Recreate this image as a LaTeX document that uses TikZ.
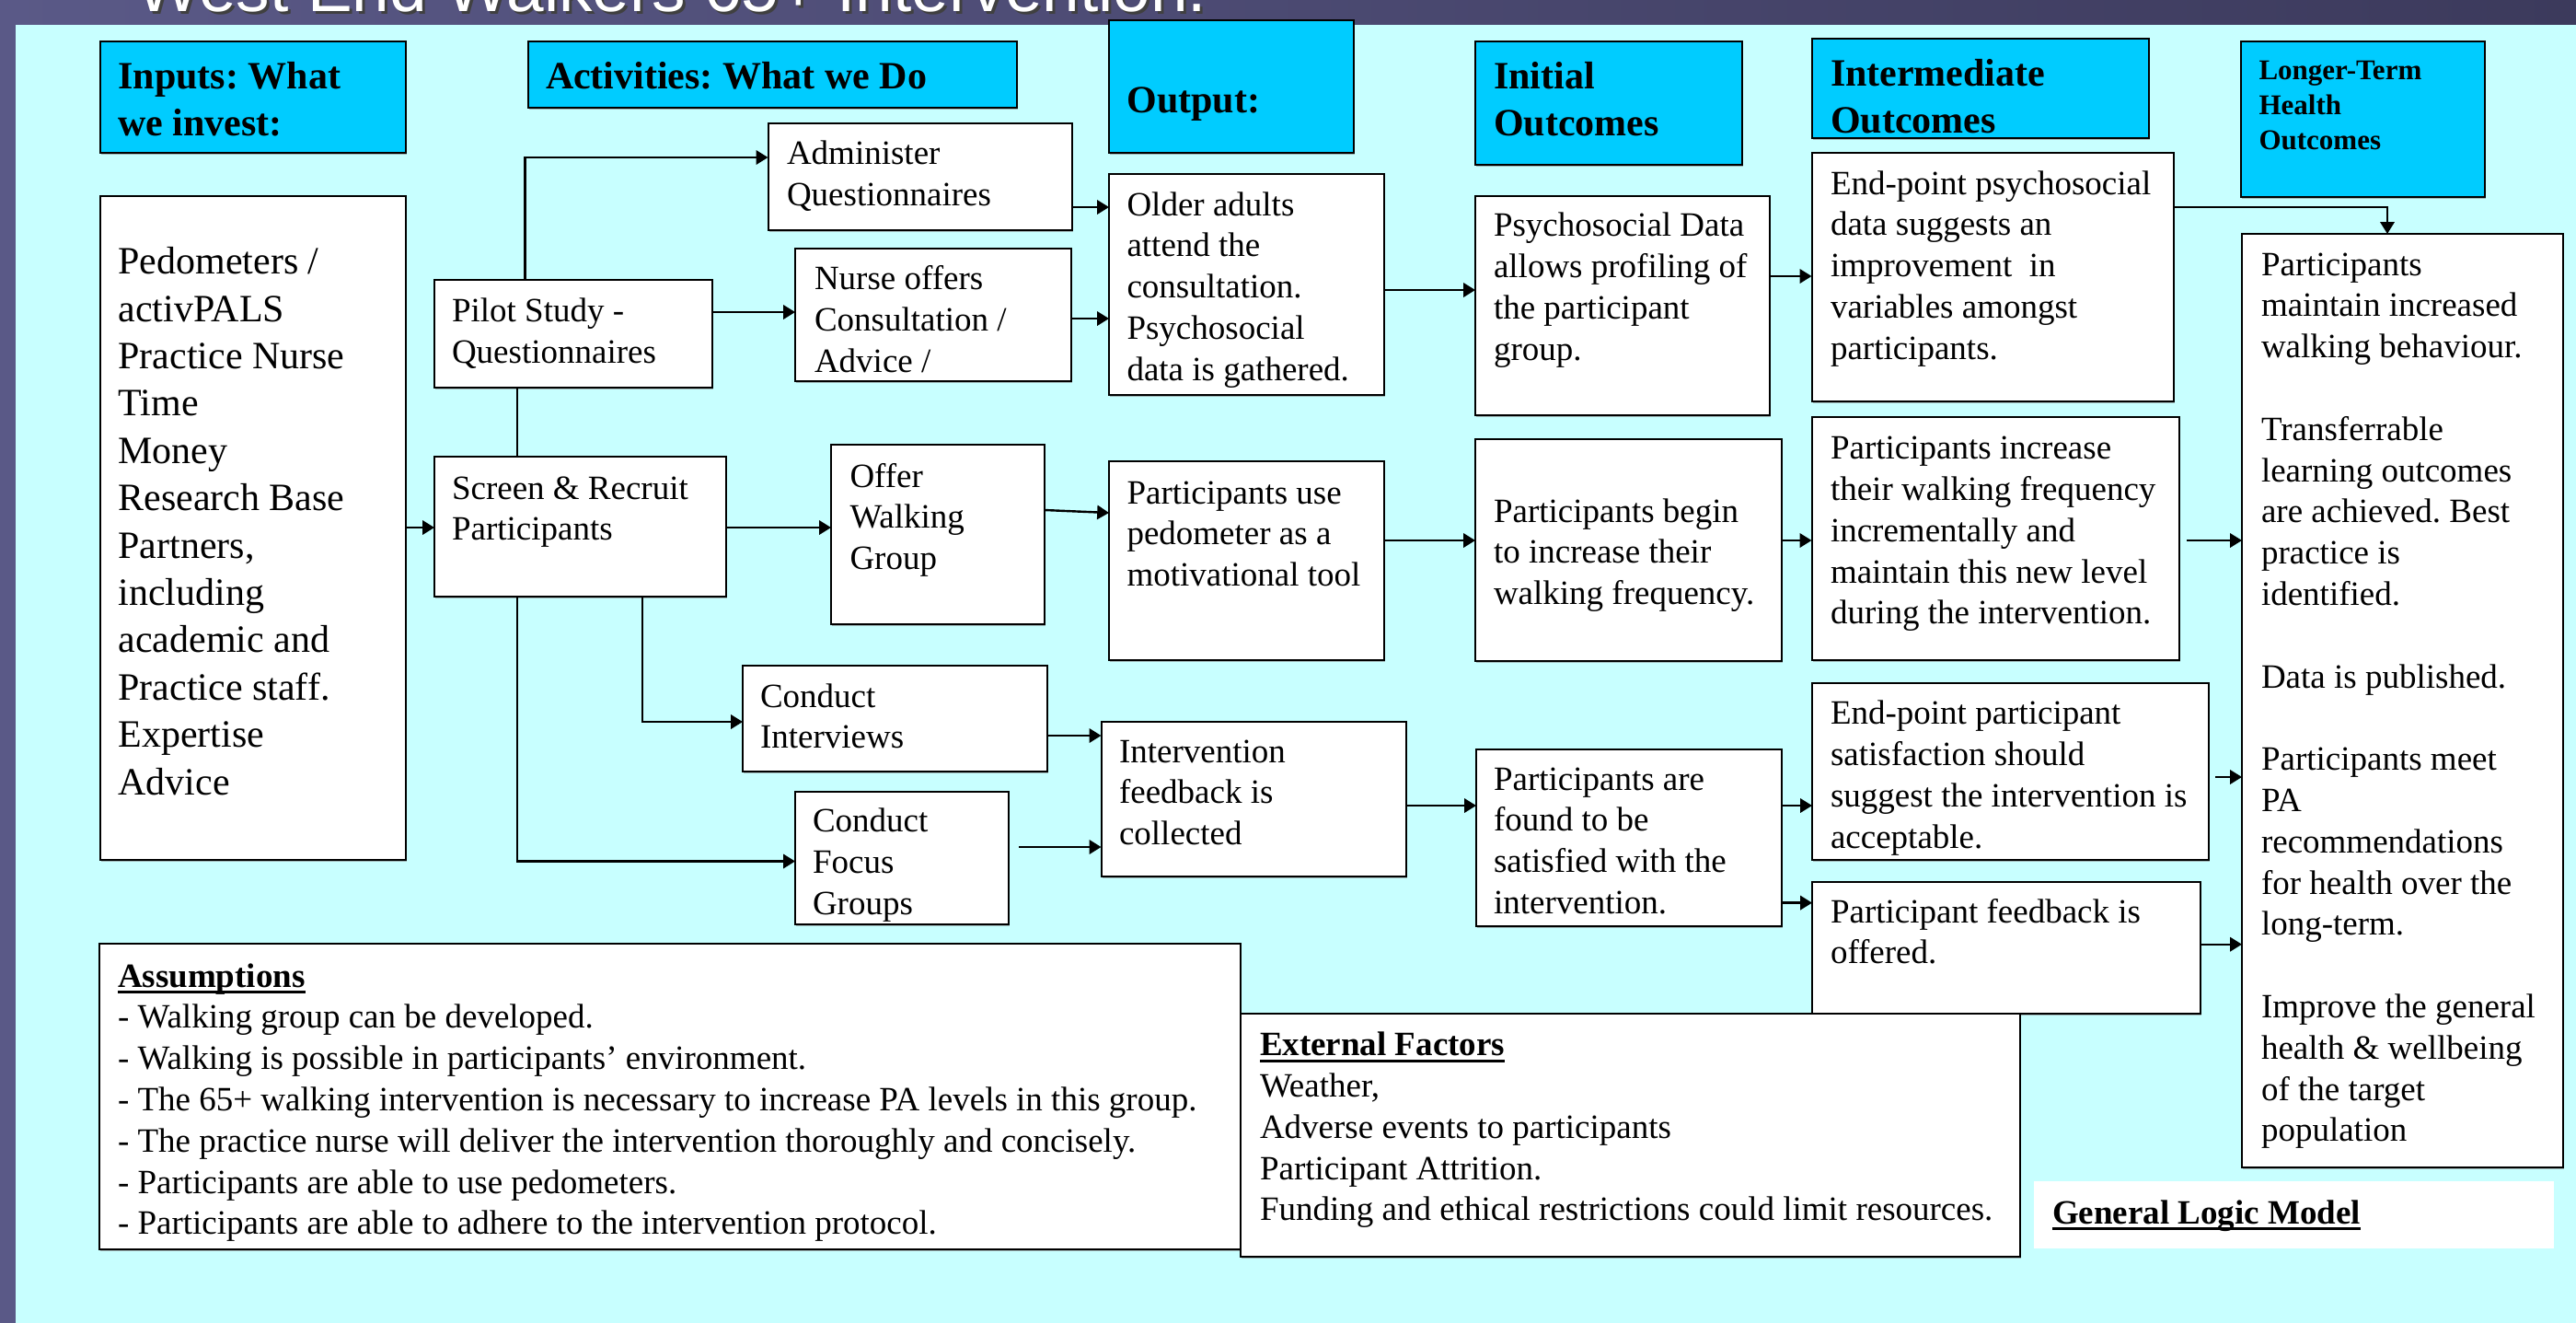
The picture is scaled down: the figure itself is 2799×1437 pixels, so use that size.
\documentclass[tikz,border=0pt]{standalone}
\usepackage{fontspec}
\setmainfont{Liberation Serif}
\newfontfamily\titlefont{Liberation Sans}
\usetikzlibrary{arrows.meta,shadows}
\definecolor{bgcyan}{HTML}{C8FFFF}
\definecolor{hdrblue}{HTML}{00CCFF}
\definecolor{purpleL}{HTML}{5A5987}
\definecolor{purpleD}{HTML}{3C3A5C}
\newcommand\bx[6]{\node[#2, anchor=north west, minimum width={(#5-#3)*0.25pt}, minimum height={(#6-#4)*0.25pt}] (#1) at (#3,#4) {};}
\newsavebox\ulbox
\newcommand\thul[1]{\leavevmode\sbox\ulbox{#1}\rlap{\rule[-1.7pt]{\wd\ulbox}{0.75pt}}\usebox\ulbox}
\begin{document}
\frenchspacing
\begin{tikzpicture}[x=0.25pt,y=-0.25pt,
  box/.style={draw=black, line width=0.5pt, fill=white, inner sep=0pt, outer sep=0pt,
    drop shadow={shadow xshift=0.3pt, shadow yshift=-0.5pt, opacity=0.55}},
  hdr/.style={box, fill=hdrblue},
  plain/.style={fill=white, inner sep=0pt, outer sep=0pt},
  tbase/.style={anchor=north west, inner sep=0pt, outer sep=0pt, align=left},
  tn/.style={tbase, font=\fontsize{9.25}{11.2}\selectfont, yshift=7.84pt},
  ti/.style={tbase, font=\fontsize{10.5}{12.85}\selectfont, yshift=8.995pt},
  th/.style={tbase, font=\bfseries\fontsize{10.5}{12.75}\selectfont, yshift=8.925pt},
  tl/.style={tbase, font=\bfseries\fontsize{7.75}{9.625}\selectfont, yshift=6.74pt},
  ln/.style={line width=0.6pt},
  arr/.style={ln, -{Triangle[length=3.2pt,width=3.8pt]}}
]
\useasboundingbox (0,0) rectangle (2799,1437);
\clip (0,0) rectangle (2799,1437);
\shade[left color=purpleL, right color=purpleD] (0,0) rectangle (2799,1437);
\fill[bgcyan] (17,27) rectangle (2799,1437);
% title
\node[anchor=base west, inner sep=0pt, text=black!75, font=\titlefont\fontsize{18.25}{22}\selectfont] (titleS) at (151,15) {West End Walkers 65+ Intervention.};
\node[anchor=base west, inner sep=0pt, text=white, font=\titlefont\fontsize{18.25}{22}\selectfont] (title) at (148,12) {West End Walkers 65+ Intervention.};

% headers
\bx{hIn}{hdr}{109}{45}{441}{165.5}
\bx{hAct}{hdr}{574}{45}{1105}{117}
\bx{hOut}{hdr}{1205}{22}{1471}{165.5}
\bx{hIni}{hdr}{1603}{45}{1893}{179}
\bx{hInter}{hdr}{1968.5}{42}{2335}{149.5}
\bx{hLong}{hdr}{2434.5}{45}{2700}{214}
\node[th] (tIn) at (128.5,96) {\strut Inputs: What\\we invest:};
\node[th] (tAct) at (593,96) {\strut Activities: What we Do};
\node[th] (tOut) at (1224.5,122.7) {\strut Output:};
\node[th] (tIni) at (1623,96) {\strut Initial\\Outcomes};
\node[th] (tInter) at (1989,93.7) {\strut Intermediate\\Outcomes};
\node[tl] (tLong) at (2454.5,86) {\strut Longer-Term\\Health\\Outcomes};

% boxes
\bx{bIn}{box}{109}{213}{441}{934}
\bx{bPilot}{box}{472}{304}{774}{421}
\bx{bScreen}{box}{472}{496}{789}{648}
\bx{bAdmin}{box}{834.5}{134}{1164.5}{250}
\bx{bNurse}{box}{864}{270}{1164}{414}
\bx{bWalk}{box}{903}{483}{1135}{678}
\bx{bInt}{box}{807}{723}{1138}{838}
\bx{bFocus}{box}{864}{860}{1096}{1004}
\bx{bOlder}{box}{1205}{189}{1504}{429}
\bx{bPedo}{box}{1205}{501}{1504}{717}
\bx{bFeed}{box}{1196.5}{784}{1527.5}{952}
\bx{bPsych}{box}{1603}{213}{1923}{451}
\bx{bBegin}{box}{1603}{477}{1936}{718}
\bx{bSat}{box}{1604}{814}{1936}{1006}
\bx{bEndP}{box}{1968.5}{165.5}{2362}{436}
\bx{bIncr}{box}{1968.5}{453}{2368}{717}
\bx{bEndS}{box}{1969}{741.6}{2400}{934}
\bx{bFbo}{box}{1969}{957.6}{2391}{1101}
\bx{bLong}{box}{2436}{254}{2785}{1268}
\bx{bAss}{box}{108}{1025}{1348}{1357}
\bx{bExt}{box}{1348}{1101}{2195}{1365}
\bx{bGLM}{plain}{2210}{1283}{2775}{1356}

% texts
\node[ti] (tInputs) at (128.5,297.7) {\strut Pedometers /\\activPALS\\Practice Nurse\\Time\\Money\\Research Base\\Partners,\\including\\academic and\\Practice staff.\\Expertise\\Advice};
\node[tn] (tPilot) at (491,349.5) {\strut Pilot Study -\\Questionnaires};
\node[tn] (tScreen) at (491,542) {\strut Screen \& Recruit\\Participants};
\node[tn] (tAdmin) at (855,178.5) {\strut Administer\\Questionnaires};
\node[tn] (tNurse) at (885,314.6) {\strut Nurse offers\\Consultation /\\Advice /};
\node[tn] (tWalk) at (923.5,529) {\strut Offer\\Walking\\Group};
\node[tn] (tInt) at (826,768) {\strut Conduct\\Interviews};
\node[tn] (tFocus) at (883,903.8) {\strut Conduct\\Focus\\Groups};
\node[tn] (tOlder) at (1224.5,234) {\strut Older adults\\attend the\\consultation.\\Psychosocial\\data is gathered.};
\node[tn] (tPedo) at (1224.5,547) {\strut Participants use\\pedometer as a\\motivational tool};
\node[tn] (tFeed) at (1216,828) {\strut Intervention\\feedback is\\collected};
\node[tn] (tPsych) at (1623,256.6) {\strut Psychosocial Data\\allows profiling of\\the participant\\group.};
\node[tn] (tBegin) at (1623,567) {\strut Participants begin\\to increase their\\walking frequency.};
\node[tn] (tSat) at (1623,858) {\strut Participants are\\found to be\\satisfied with the\\intervention.};
\node[tn] (tEndP) at (1989,211) {\strut End-point psychosocial\\data suggests an\\improvement\ \ in\\variables amongst\\participants.};
\node[tn] (tIncr) at (1989,498.6) {\strut Participants increase\\their walking frequency\\incrementally and\\maintain this new level\\during the intervention.};
\node[tn] (tEndS) at (1989,786.7) {\strut End-point participant\\satisfaction should\\suggest the intervention is\\acceptable.};
\node[tn] (tFbo) at (1989,1002) {\strut Participant feedback is\\offered.};
\node[tn] (tLongT) at (2457,299) {\strut Participants\\maintain increased\\walking behaviour.\\[11.2pt]Transferrable\\learning outcomes\\are achieved. Best\\practice is\\identified.\\[11.2pt]Data is published.\\[11.2pt]Participants meet\\PA\\recommendations\\for health over the\\long-term.\\[11.2pt]Improve the general\\health \& wellbeing\\of the target\\population};
\node[tn] (tAss) at (128,1072) {\strut\thul{\textbf{Assumptions}}\\- Walking group can be developed.\\- Walking is possible in participants’ environment.\\- The 65+ walking intervention is necessary to increase PA levels in this group.\\- The practice nurse will deliver the intervention thoroughly and concisely.\\- Participants are able to use pedometers.\\- Participants are able to adhere to the intervention protocol.};
\node[tn] (tExt) at (1369,1146.7) {\strut\thul{\textbf{External Factors}}\\Weather,\\Adverse events to participants\\Participant Attrition.\\Funding and ethical restrictions could limit resources.};
\node[tn] (tGLM) at (2230,1329) {\strut\thul{\textbf{General Logic Model}}};

% connectors
\draw[arr] (bIn.east |- 0,573) -- (bScreen.west |- 0,573);
\draw[arr] (bPilot.north -| 570.5,0) |- (bAdmin.west |- 0,171);
\draw[arr] (bPilot.east |- 0,339) -- (bNurse.west |- 0,339);
\draw[ln] (bPilot.south -| 562,0) -- (bScreen.north -| 562,0);
\draw[arr] (bScreen.east |- 0,573) -- (bWalk.west |- 0,573);
\draw[arr] (bScreen.south -| 698,0) |- (bInt.west |- 0,784);
\draw[arr] (bScreen.south -| 562,0) |- (bFocus.west |- 0,935.5);
\draw[arr] (bAdmin.east |- 0,225) -- (bOlder.west |- 0,225);
\draw[arr] (bNurse.east |- 0,346) -- (bOlder.west |- 0,346);
\draw[arr] (bWalk.east |- 0,554) -- (bPedo.west |- 0,557);
\draw[arr] (bInt.east |- 0,799) -- (bFeed.west |- 0,799);
\draw[arr] ([xshift=2.75pt]bFocus.east |- 0,920) -- (bFeed.west |- 0,920);
\draw[arr] (bOlder.east |- 0,315) -- (bPsych.west |- 0,315);
\draw[arr] (bPedo.east |- 0,587) -- (bBegin.west |- 0,587);
\draw[arr] (bFeed.east |- 0,875) -- (bSat.west |- 0,875);
\draw[arr] (bPsych.east |- 0,300) -- (bEndP.west |- 0,300);
\draw[arr] (bBegin.east |- 0,587) -- (bIncr.west |- 0,587);
\draw[arr] (bSat.east |- 0,875) -- (bEndS.west |- 0,875);
\draw[arr] (bSat.east |- 0,980.6) -- (bFbo.west |- 0,980.6);
\draw[arr] (bEndP.east |- 0,225) -| (bLong.north -| 2594,0);
\draw[arr] ([xshift=2pt]bIncr.east |- 0,587) -- (bLong.west |- 0,587);
\draw[arr] ([xshift=1.75pt]bEndS.east |- 0,844) -- (bLong.west |- 0,844);
\draw[arr] (bFbo.east |- 0,1025.7) -- (bLong.west |- 0,1025.7);
\end{tikzpicture}
\end{document}
